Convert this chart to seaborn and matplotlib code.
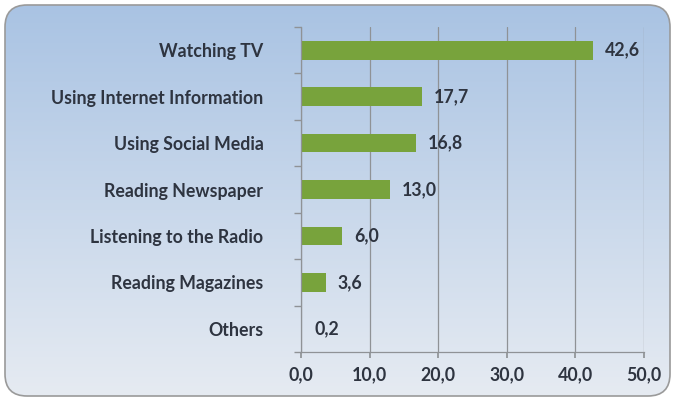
import numpy as np
import pandas as pd
import matplotlib
matplotlib.use("Agg")
import matplotlib.pyplot as plt
from matplotlib.patches import FancyBboxPatch
import seaborn as sns

categories = ["Watching TV", "Using Internet Information", "Using Social Media",
              "Reading Newspaper", "Listening to the Radio", "Reading Magazines", "Others"]
values = [42.6, 17.7, 16.8, 13.0, 6.0, 3.6, 0.2]
value_labels = ["42,6", "17,7", "16,8", "13,0", "6,0", "3,6", "0,2"]
x_ticks = [0, 10, 20, 30, 40, 50]
x_tick_labels = ["0,0", "10,0", "20,0", "30,0", "40,0", "50,0"]

df = pd.DataFrame({"activity": categories, "share": values})

sns.set_theme(style="white")
plt.rcParams["font.family"] = ["Lato", "DejaVu Sans"]

W, H = 675, 399
fig = plt.figure(figsize=(W / 100, H / 100), dpi=100)
fig.patch.set_facecolor("white")

# Background panel: rounded box filled with a vertical blue gradient
bg = fig.add_axes([0, 0, 1, 1], zorder=0)
bg.set_xlim(0, W)
bg.set_ylim(0, H)
bg.axis("off")
grad = np.linspace(0, 1, 256).reshape(-1, 1)
top = np.array([0xa9, 0xc3, 0xe3]) / 255
bottom = np.array([0xe6, 0xeb, 0xf2]) / 255
colors = (top[None, :] * (1 - grad) + bottom[None, :] * grad).reshape(256, 1, 3)
im = bg.imshow(colors, extent=[3, W - 3, 2, H - 3], origin="upper", aspect="auto")
panel = FancyBboxPatch((5, 3), W - 10, H - 8, boxstyle="round,pad=0,rounding_size=22",
                       transform=bg.transData, facecolor="none", edgecolor="#9a9a9a", linewidth=1.2)
bg.add_patch(panel)
im.set_clip_path(panel)

ax = fig.add_axes([301 / W, 1 - 352 / H, (644 - 301) / W, (352 - 27) / H], zorder=1)
ax.patch.set_alpha(0)
sns.barplot(data=df, y="activity", x="share", orient="h", color="#78a33c",
            width=0.4, saturation=1, linewidth=0, ax=ax)

ax.set_xlim(0, 50)
ax.set_ylim(len(categories) - 0.5, -0.5)
ax.set_xticks(x_ticks)
ax.set_xticklabels(x_tick_labels)
ax.set_xlabel("")
ax.set_ylabel("")
ax.grid(axis="x", color="#8f9296", linewidth=0.9)
ax.set_axisbelow(True)
for s in ["top", "right"]:
    ax.spines[s].set_visible(False)
for s in ["left", "bottom"]:
    ax.spines[s].set_color("#8f9296")
    ax.spines[s].set_linewidth(0.9)

txt_color = "#2e3440"
fs = 12.8
ax.tick_params(axis="x", bottom=True, length=4, color="#8f9296", labelsize=fs,
               labelcolor=txt_color, pad=6)
ax.tick_params(axis="y", which="major", left=False, length=0, labelsize=fs,
               labelcolor=txt_color, pad=27)
for lab in ax.get_xticklabels() + ax.get_yticklabels():
    lab.set_fontweight("bold")

# small separator ticks between categories on the value axis
ax.set_yticks(np.arange(len(categories) + 1) - 0.5, minor=True)
ax.tick_params(axis="y", which="minor", left=True, length=5, color="#8f9296", direction="out")

for i, (v, lab) in enumerate(zip(values, value_labels)):
    ax.annotate(lab, (v, i), xytext=(8.5, 0), textcoords="offset points",
                va="center", ha="left", fontsize=fs, fontweight="bold", color=txt_color)

fig.savefig("out.png", dpi=100)
